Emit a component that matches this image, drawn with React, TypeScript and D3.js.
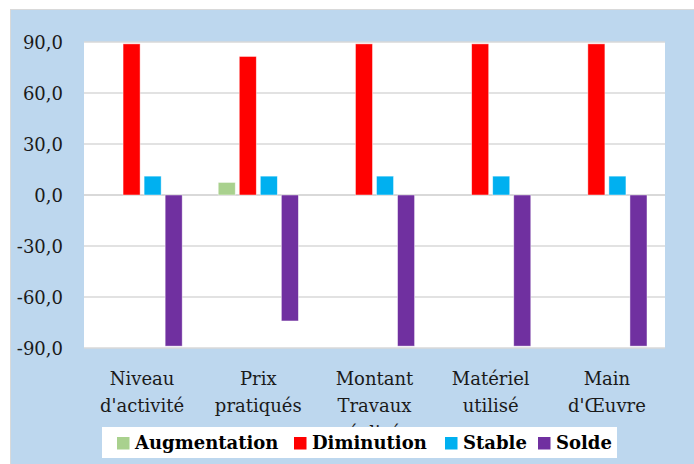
import React from 'react'
import * as d3 from 'd3'

// categories (x axis, multi-line labels)
const categories = ['Niveau activite', 'Prix pratiques', 'Montant travaux', 'Materiel', 'Main oeuvre']
const categoryLabels = [
  ['Niveau', "d'activité"],
  ['Prix', 'pratiqués'],
  ['Montant', 'Travaux', 'réalisés'],
  ['Matériel', 'utilisé'],
  ['Main', "d'Œuvre"],
]

// series
const seriesNames = ['Augmentation', 'Diminution', 'Stable', 'Solde']
const seriesColors = ['#A9D18E', '#FF0000', '#00B0F0', '#7030A0']
const augmentation = [0, 7.4, 0, 0, 0]
const diminution = [88.9, 81.5, 88.9, 88.9, 88.9]
const stable = [11.1, 11.1, 11.1, 11.1, 11.1]
const solde = [-88.9, -74.1, -88.9, -88.9, -88.9]
const seriesValues = [augmentation, diminution, stable, solde]

const yTicks = [90, 60, 30, 0, -30, -60, -90]

const W = 694
const H = 464
const plot = {left: 84, right: 665, top: 42, bottom: 348}
const serif = "'DejaVu Serif', serif"
const fmt = (v: number) => v.toFixed(1).replace('.', ',')

// legend layout (x of each swatch)
const legendX = [117, 294, 445, 538]

const App = () => {
  const x = d3.scaleBand<string>()
    .domain(categories)
    .range([plot.left, plot.right])
    .padding(0)

  const bw = x.bandwidth()
  const inner = d3.scaleBand<string>()
    .domain(seriesNames)
    .range([bw * 0.155, bw * 0.845])
    .paddingInner(0.19)

  const y = d3.scaleLinear()
    .domain([-90, 90])
    .range([plot.bottom, plot.top])

  return (
    <svg width={W} height={H} style={{position: 'absolute', left: 0, top: 0, fontFamily: serif}}>
      <rect x={0} y={0} width={W} height={H} fill="#fff" />
      <rect x={10.5} y={9.5} width={W} height={H} fill="#BDD7EE" stroke="#D9D9D9" strokeWidth={1} />
      <rect x={plot.left} y={plot.top} width={plot.right - plot.left} height={plot.bottom - plot.top} fill="#fff" />

      {/* grid */}
      {yTicks.map(t => (
        <line key={t} x1={plot.left} x2={plot.right} y1={y(t)} y2={y(t)}
          stroke="#D9D9D9" strokeWidth={t === 0 ? 2 : 1.5} />
      ))}

      {/* y tick labels */}
      {yTicks.map(t => (
        <text key={'l' + t} x={63} y={y(t) + 6.5} textAnchor="end"
          fontSize={18} fill="#1a1a1a">{fmt(t)}</text>
      ))}

      {/* bars */}
      {seriesNames.map((s, si) => (
        <g key={s}>
          {categories.map((c, ci) => {
            const v = seriesValues[si][ci]
            if (v === 0) return null
            const y0 = y(0)
            const y1 = y(v)
            return (
              <rect key={c}
                x={(x(c) as number) + (inner(s) as number)}
                y={Math.min(y0, y1)}
                width={inner.bandwidth()}
                height={Math.abs(y1 - y0)}
                fill={seriesColors[si]}
                stroke="#fff" strokeOpacity={0.6} strokeWidth={0.75} />
            )
          })}
        </g>
      ))}

      {/* x labels */}
      {categories.map((c, ci) => (
        <text key={c} textAnchor="middle" fontSize={18} fill="#1a1a1a">
          {categoryLabels[ci].map((line, li) => (
            <tspan key={li} x={(x(c) as number) + bw / 2} y={385 + li * 27}>{line}</tspan>
          ))}
        </text>
      ))}

      {/* legend */}
      <rect x={102} y={427} width={515} height={31} fill="#fff" />
      {seriesNames.map((s, si) => (
        <g key={'lg' + s}>
          <rect x={legendX[si]} y={437} width={12.5} height={12.5} fill={seriesColors[si]} />
          <text x={legendX[si] + 18} y={448.5} fontWeight="bold"
            fontSize={18} fill="#000">{s}</text>
        </g>
      ))}
    </svg>
  )
}

export default App
